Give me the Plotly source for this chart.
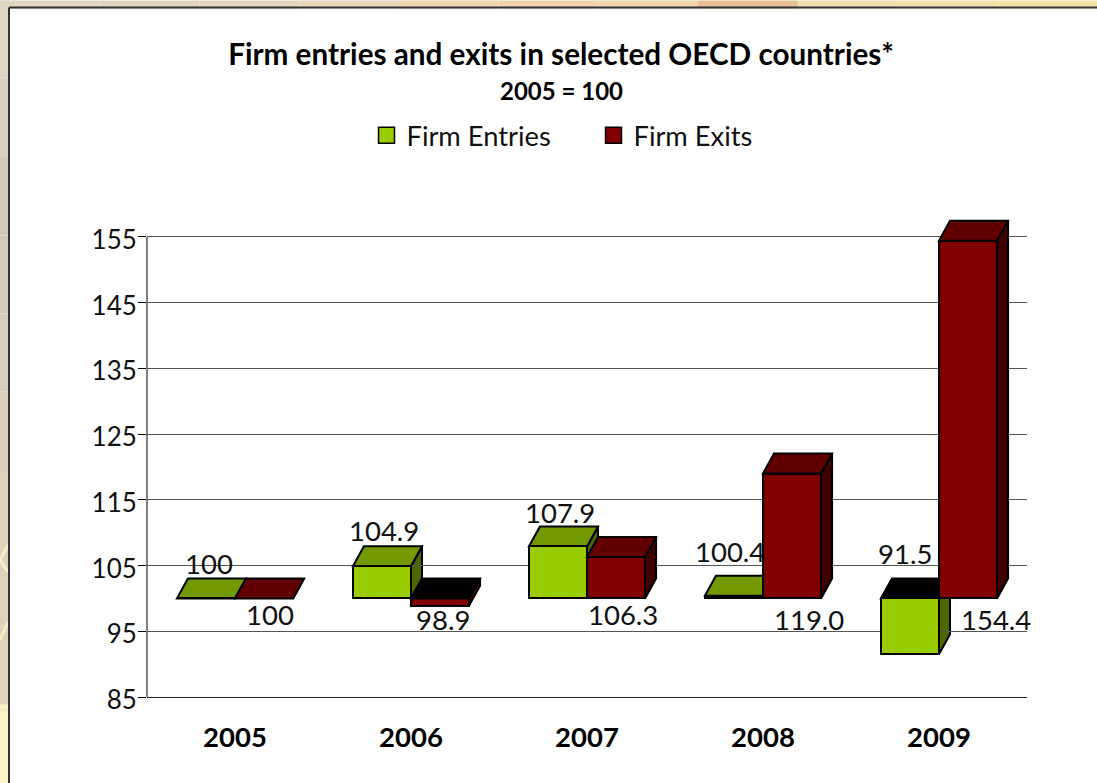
import plotly.graph_objects as go

# Index values, 2005 = 100
YEARS = ["2005", "2006", "2007", "2008", "2009"]
ENTRIES = [100, 104.9, 107.9, 100.4, 91.5]
EXITS = [100, 98.9, 106.3, 119.0, 154.4]
ENTRY_LABELS = ["100", "104.9", "107.9", "100.4", "91.5"]
EXIT_LABELS = ["100", "98.9", "106.3", "119.0", "154.4"]

BASELINE = 100
W, H = 1097, 783
L, R, T, B = 147, 1027, 203.6, 697
Y_MIN, Y_MAX = 85, 160
X_MIN, X_MAX = -0.5, 4.5
BAR_W = 0.33
# Extrusion of the pseudo-3D bars, in pixels
DEPTH_PX_X, DEPTH_PX_Y = 11, 20
DX = DEPTH_PX_X * (X_MAX - X_MIN) / (R - L)
DY = DEPTH_PX_Y * (Y_MAX - Y_MIN) / (B - T)

FONT = "Lato"
ENTRY_COLORS = {"front": "#99cc00", "top": "#739900", "side": "#4d6600"}
EXIT_COLORS = {"front": "#800000", "top": "#600000", "side": "#400000"}
OUTLINE = dict(color="#000000", width=2)


def px(x):
    return (x - L) / (R - L)


def py(y):
    return (B - y) / (B - T)


def polygon(points, fill, layer):
    path = "M" + "L".join(f"{x:.4f},{y:.4f}" for x, y in points) + "Z"
    return dict(type="path", path=path, xref="x", yref="y", fillcolor=fill,
                line=OUTLINE, layer=layer)


def depth_faces(left, value, colors, layer):
    """Top and right-hand faces of one extruded bar."""
    right = left + BAR_W
    hi = max(value, BASELINE)
    lo = min(value, BASELINE)
    top_fill = colors["top"] if value >= BASELINE else "#000000"
    return [
        polygon([(right, lo), (right + DX, lo + DY), (right + DX, hi + DY), (right, hi)],
                colors["side"], layer),
        polygon([(left, hi), (left + DX, hi + DY), (right + DX, hi + DY), (right, hi)],
                top_fill, layer),
    ]


positions = list(range(len(YEARS)))
shapes = []

# Page backdrop: tinted strips behind the white panel
TOP_STRIP = ["#e0d6c2", "#dfd4bd", "#e3d6bc", "#e9d6b8", "#efd4b2", "#f2d2ae",
             "#f2d4ac", "#e6c096", "#f2dcae", "#f4e0ac", "#f6e2aa"]
LEFT_STRIP = ["#e0d6c4", "#d8d0c0", "#cfcabc", "#cfcbbd", "#d6cfbe", "#dbd1bd", "#ddd3bd",
              "#ddd2bb", "#dfd2bb", "#f8f3c0"]
for i, c in enumerate(TOP_STRIP):
    shapes.append(dict(type="rect", xref="paper", yref="paper", layer="below",
                       x0=px(W * i / len(TOP_STRIP)), x1=px(W * (i + 1) / len(TOP_STRIP)),
                       y0=py(0), y1=py(8), fillcolor=c, line_width=0))
for i, c in enumerate(LEFT_STRIP):
    shapes.append(dict(type="rect", xref="paper", yref="paper", layer="below",
                       x0=px(0), x1=px(9), y0=py(H * i / len(LEFT_STRIP)),
                       y1=py(H * (i + 1) / len(LEFT_STRIP)), fillcolor=c, line_width=0))
# Pale ornament strokes crossing the left strip
ORNAMENT = [((8, 545), (0, 560)), ((0, 560), (8, 572)), ((0, 640), (8, 622)), ((0, 710), (8, 710))]
for (x0, y0), (x1, y1) in ORNAMENT:
    shapes.append(dict(type="line", xref="paper", yref="paper", layer="below",
                       x0=px(x0), x1=px(x1), y0=py(y0), y1=py(y1),
                       line=dict(color="#f4efc6", width=3)))
# Panel edge
shapes.append(dict(type="line", xref="paper", yref="paper", layer="below",
                   x0=px(9), x1=px(W), y0=py(7), y1=py(7), line=dict(color="#333333", width=2)))
shapes.append(dict(type="line", xref="paper", yref="paper", layer="below",
                   x0=px(9), x1=px(9), y0=py(7), y1=py(H), line=dict(color="#333333", width=2)))
# Value axis stops at its top tick
shapes.append(dict(type="line", xref="paper", yref="y", layer="below",
                   x0=0, x1=0, y0=Y_MIN, y1=155, line=dict(color="#000000", width=1)))

for i in positions:
    shapes += depth_faces(i - BAR_W, ENTRIES[i], ENTRY_COLORS, "below")
    shapes += depth_faces(i, EXITS[i], EXIT_COLORS, "above")

fig = go.Figure()
fig.add_bar(x=positions, y=[v - BASELINE for v in ENTRIES], base=BASELINE, width=BAR_W,
            offset=-BAR_W, marker=dict(color=ENTRY_COLORS["front"], line=OUTLINE), showlegend=False)
fig.add_bar(x=positions, y=[v - BASELINE for v in EXITS], base=BASELINE, width=BAR_W,
            offset=0, marker=dict(color=EXIT_COLORS["front"], line=OUTLINE), showlegend=False)

# Legend keys
for name, c in (("Firm Entries", ENTRY_COLORS["front"]), ("Firm Exits", EXIT_COLORS["front"])):
    fig.add_scatter(x=[None], y=[None], mode="markers", name=name,
                    marker=dict(symbol="square", size=16, color=c, line=dict(color="#000000", width=1.5)))

# Value labels: pixel offsets from the top-centre of each bar's depth block
ENTRY_LABEL_SHIFT = [(3, 15), (2, 16), (2, 14), (-4, 24), (-5, 25)]
EXIT_LABEL_Y = [614, 619, 614, 619, 619]
EXIT_LABEL_DX = [5.5, 3, 6.5, 16.5, 28]
LABEL_FONT = dict(family=FONT, size=27.5, color="#111111")
annotations = []
for i in positions:
    sx, sy = ENTRY_LABEL_SHIFT[i]
    annotations.append(dict(x=i - BAR_W / 2, y=max(ENTRIES[i], BASELINE) + DY, xref="x", yref="y",
                            text=ENTRY_LABELS[i], showarrow=False, xshift=sx, yshift=sy,
                            font=LABEL_FONT))
    annotations.append(dict(x=i + BAR_W / 2, y=Y_MIN + (B - EXIT_LABEL_Y[i]) * (Y_MAX - Y_MIN) / (B - T),
                            xref="x", yref="y", text=EXIT_LABELS[i], showarrow=False,
                            xshift=EXIT_LABEL_DX[i], font=LABEL_FONT))
annotations.append(dict(x=px(561), y=py(90), xref="paper", yref="paper", showarrow=False,
                        yanchor="middle", text="<b>2005 = 100</b>",
                        font=dict(family=FONT, size=24, color="#000000")))

fig.update_layout(
    width=W, height=H, autosize=False,
    margin=dict(l=L, r=W - R, t=T, b=H - B, pad=0),
    paper_bgcolor="#ffffff", plot_bgcolor="#ffffff",
    bargap=0, barmode="overlay",
    title=dict(text="<b>Firm entries and exits in selected OECD countries*</b>",
               x=px(561), xref="paper", xanchor="center",
               y=1 - 55 / H, yanchor="middle",
               font=dict(family=FONT, size=29.7, color="#000000")),
    legend=dict(orientation="h", x=px(366.5), xanchor="left", y=py(135), yanchor="middle",
                entrywidth=182, entrywidthmode="pixels",
                font=dict(family=FONT, size=27.3, color="#111111"),
                bgcolor="rgba(0,0,0,0)"),
    xaxis=dict(range=[X_MIN, X_MAX], tickmode="array", tickvals=positions,
               ticktext=[f"<b>{y}</b>" for y in YEARS], ticks="", showgrid=False, zeroline=False,
               showline=True, linecolor="#222222", linewidth=1, ticklabelstandoff=16,
               tickfont=dict(family=FONT, size=27.5, color="#000000")),
    yaxis=dict(range=[Y_MIN, Y_MAX], tickmode="array", tickvals=list(range(85, 156, 10)),
               ticks="outside", ticklen=8, tickcolor="#000000", showgrid=True,
               gridcolor="#555555", gridwidth=1, zeroline=False, showline=False,
               ticklabelstandoff=-4, ticklabelshift=3,
               tickfont=dict(family=FONT, size=26, color="#111111")),
    shapes=shapes, annotations=annotations,
)

fig.write_html("out.html")
